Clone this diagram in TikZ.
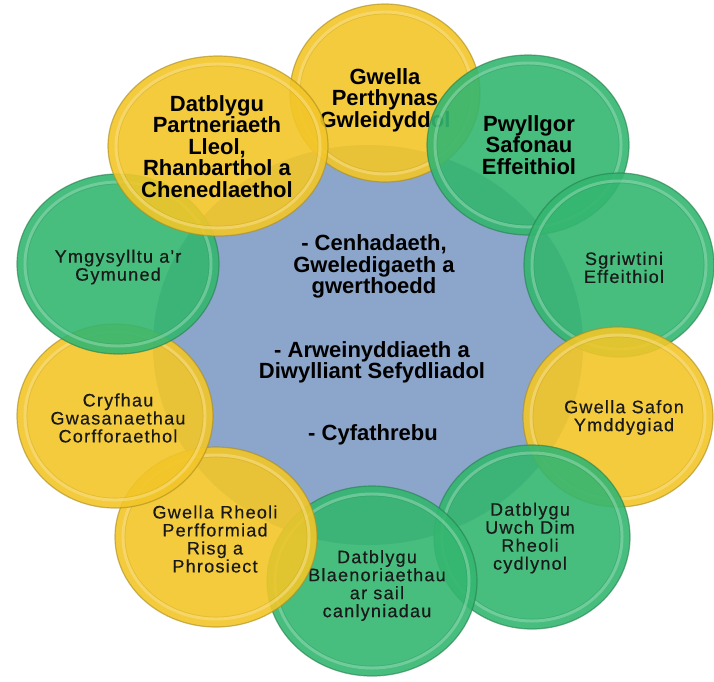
\documentclass[tikz,border=0pt]{standalone}
\usepackage{fontspec}
\setmainfont{Liberation Sans}
\newfontfamily\spacedfont[LetterSpace=7,FakeBold=0.4]{Liberation Sans}
\usetikzlibrary{shapes.geometric}
\definecolor{gr}{RGB}{52,182,112}
\definecolor{ye}{RGB}{242,198,40}
\definecolor{bl}{RGB}{140,165,202}
\tikzset{
  boldtxt/.style={font=\bfseries\fontsize{22}{21.5}\selectfont, align=center, text=black, inner sep=0},
  regtxt/.style={font=\spacedfont\fontsize{18}{18}\selectfont, align=center, text=black!90, inner sep=0},
  bubshape/.style={ellipse, inner sep=0, fill opacity=.9, draw opacity=.6, line width=1.2}
}
% name, centre, rx, ry, colour, text position, text style, text
\newcommand\bub[8]{%
  \node[bubshape, draw=#5!70!black, fill=#5, minimum width={2*#3}, minimum height={2*#4}] (#1) at #2 {};
  \draw[#5!50!white, line width=3, opacity=.5] (#1.center) ellipse [x radius={#3-8}, y radius={#4-8}];
  \draw[#5!80!black, line width=.6, opacity=.35] (#1.center) ellipse [x radius={#3-10}, y radius={#4-10}];
  \node[#7] (#1t) at #6 {#8};
}
\begin{document}
\begin{tikzpicture}[x=1pt, y=-1pt]
\useasboundingbox (0,0) rectangle (714,681);
\fill[white] (0,0) rectangle (714,681);
% central circle
\node[ellipse, fill=bl, inner sep=0, minimum width=430, minimum height=400] (core) at (368,345) {};
\node[boldtxt] (m1) at (374,266.5) {- Cenhadaeth,\\Gweledigaeth a\\gwerthoedd};
\node[boldtxt] (m2) at (372,362.5) {- Arweinyddiaeth a\\Diwylliant Sefydliadol};
\node[boldtxt] (m3) at (373,435) {- Cyfathrebu};
% ring of circles
\bub{c1}{(385,93)}{95}{89}{ye}{(385,100)}{boldtxt}{Gwella\\Perthynas\\Gwleidyddol}
\bub{c2}{(528,145)}{101}{90}{gr}{(529,145)}{boldtxt}{Pwyllgor\\Safonau\\Effeithiol}
\bub{c3}{(619,265)}{95}{92}{gr}{(624,267.5)}{regtxt}{Sgriwtini\\Effeithiol}
\bub{c4}{(618,417)}{95}{90}{ye}{(624,417.5)}{regtxt}{Gwella Safon\\Ymddygiad}
\bub{c5}{(532,537)}{98}{92}{gr}{(530,538)}{regtxt}{Datblygu\\Uwch Dim\\Rheoli\\cydlynol}
\bub{c6}{(372,581)}{105}{95}{gr}{(377,585.5)}{regtxt}{Datblygu\\Blaenoriaethau\\ar sail\\canlyniadau}
\bub{c7}{(216,537)}{101}{90}{ye}{(215,539)}{regtxt}{Gwella Rheoli\\Perfformiad\\Risg a\\Phrosiect}
\bub{c8}{(115,416)}{98}{92}{ye}{(118,418)}{regtxt}{Cryfhau\\Gwasanaethau\\Corfforaethol}
\bub{c9}{(118,264)}{101}{90}{gr}{(118,267)}{regtxt}{Ymgysylltu a'r\\Gymuned}
\bub{c10}{(218,146)}{110}{90}{ye}{(217,146.5)}{boldtxt}{Datblygu\\Partneriaeth\\Lleol,\\Rhanbarthol a\\Chenedlaethol}
\end{tikzpicture}
\end{document}
